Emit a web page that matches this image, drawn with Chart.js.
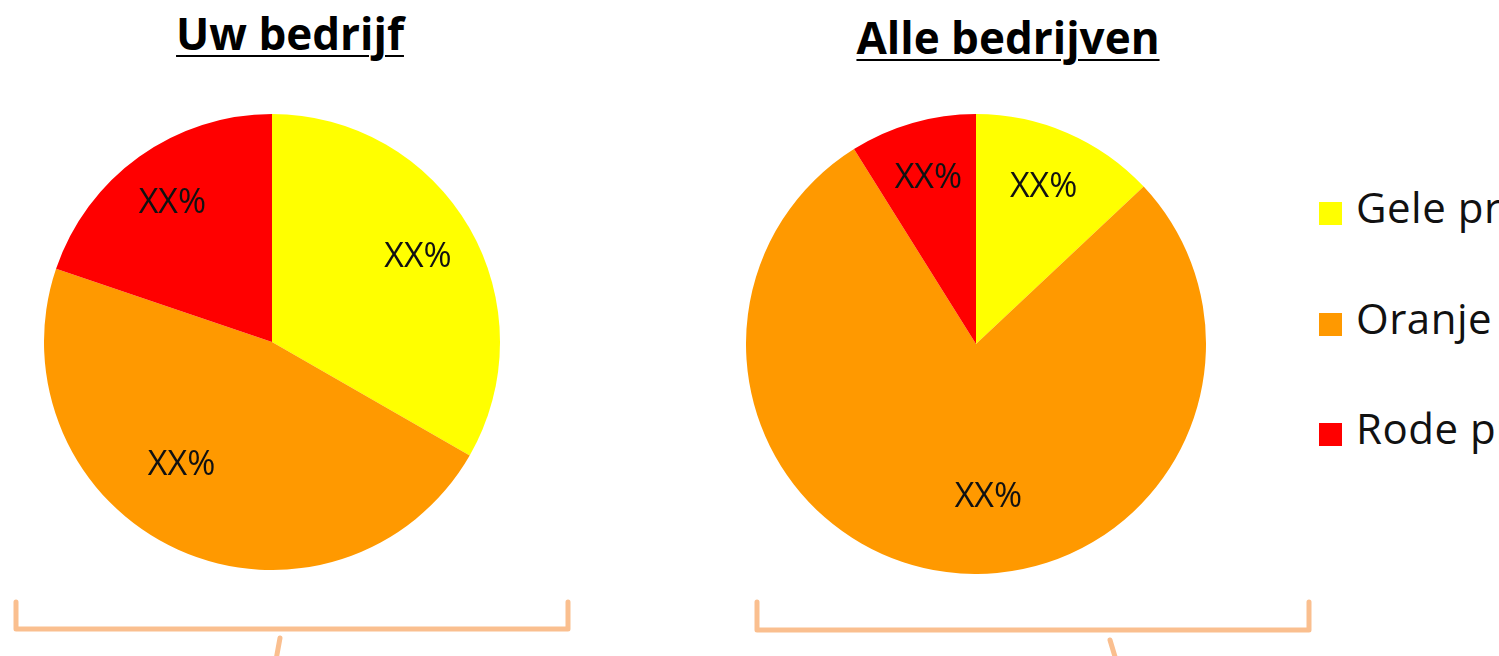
<!DOCTYPE html>
<html>
<head>
<meta charset="utf-8">
<script src="https://cdn.jsdelivr.net/npm/chart.js@4.4.0/dist/chart.umd.min.js"></script>
<style>
  html, body { margin: 0; padding: 0; background: #fff; }
  body { width: 1499px; height: 656px; position: relative; overflow: hidden; font-family: "Open Sans", sans-serif; }
  .titel { position: absolute; font-size: 44px; line-height: 44px; font-weight: bold; color: #000;
           text-decoration: underline; text-decoration-thickness: 2px; text-underline-offset: 5px;
           white-space: nowrap; transform: translateX(-50%); }
  canvas { position: absolute; }
  .leg-box { position: absolute; width: 23px; height: 23px; }
  .leg-txt { position: absolute; font-size: 42px; line-height: 42px; letter-spacing: 0.5px; color: #111; white-space: nowrap; }
  svg { position: absolute; left: 0; top: 0; }
</style>
</head>
<body>

<div class="titel" id="titel1" style="left:290px; top:11px;"></div>
<div class="titel" id="titel2" style="left:1008px; top:15px;"></div>

<canvas id="pie_uw" width="456" height="456" style="left:44px; top:114px;"></canvas>
<canvas id="pie_alle" width="460" height="460" style="left:746px; top:114px;"></canvas>

<div id="legenda"></div>

<svg width="1499" height="656">
  <g fill="none" stroke="#FABF8F" stroke-width="5" stroke-linejoin="round" stroke-linecap="round">
    <path d="M16 602 L16 629 L568 629 L568 602" />
    <path d="M280 638 L276 660" />
    <path d="M757 602 L757 630 L1309 630 L1309 602" />
    <path d="M1110 640 L1116 660" />
  </g>
</svg>

<script>
var titels = ['Uw bedrijf', 'Alle bedrijven'];
var categorieen = ['Gele producten', 'Oranje producten', 'Rode producten'];
var kleuren = ['#FFFF00', '#FF9900', '#FF0000'];
var labelTekst = ['XX%', 'XX%', 'XX%'];

var uwBedrijf = [33.3, 46.9, 19.8];
var alleBedrijven = [13.0, 78.1, 8.9];

// label plaatsing (stijl): straal-factor en hoekverschuiving in graden
var labelStraal = [0.74, 0.67, 0.75];
var verschuivingUw = [0, 12, 0];
var verschuivingAlle = [0, -12, 0];

document.getElementById('titel1').textContent = titels[0];
document.getElementById('titel2').textContent = titels[1];

var legHtml = '';
var legTop = [202, 313, 423];
for (var i = 0; i < categorieen.length; i++) {
	legHtml += '<div class="leg-box" style="left:1319px; top:' + legTop[i] + 'px; background:' + kleuren[i] + ';"></div>';
	legHtml += '<div class="leg-txt" style="left:1356px; top:' + (legTop[i] - 16) + 'px;">' + categorieen[i] + '</div>';
}
document.getElementById('legenda').innerHTML = legHtml;

var xxLabels = {
	id: 'xxLabels',
	afterDatasetsDraw: function(chart, args, opts) {
		var ctx = chart.ctx;
		var meta = chart.getDatasetMeta(0);
		ctx.save();
		ctx.font = '34px "Open Sans"';
		ctx.fillStyle = '#111';
		ctx.textAlign = 'center';
		ctx.textBaseline = 'middle';
		meta.data.forEach(function(arc, i) {
			var p = arc.getProps(['x', 'y', 'startAngle', 'endAngle', 'outerRadius'], true);
			var mid = (p.startAngle + p.endAngle) / 2 + opts.shift[i] * Math.PI / 180;
			var r = p.outerRadius * labelStraal[i];
			ctx.fillText(labelTekst[i], p.x + Math.cos(mid) * r, p.y + Math.sin(mid) * r);
		});
		ctx.restore();
	}
};

function maakPie(id, waarden, shift) {
	var ctx = document.getElementById(id).getContext('2d');
	return new Chart(ctx, {
		type: 'pie',
		data: {
			labels: categorieen,
			datasets: [{
				data: waarden,
				backgroundColor: kleuren,
				borderWidth: 0,
				hoverOffset: 0,
				offset: 0
			}]
		},
		options: {
			responsive: false,
			animation: false,
			events: [],
			layout: { padding: 0 },
			plugins: {
				legend: { display: false },
				tooltip: { enabled: false },
				xxLabels: { shift: shift }
			}
		},
		plugins: [xxLabels]
	});
}

maakPie('pie_uw', uwBedrijf, verschuivingUw);
maakPie('pie_alle', alleBedrijven, verschuivingAlle);
</script>
</body>
</html>
